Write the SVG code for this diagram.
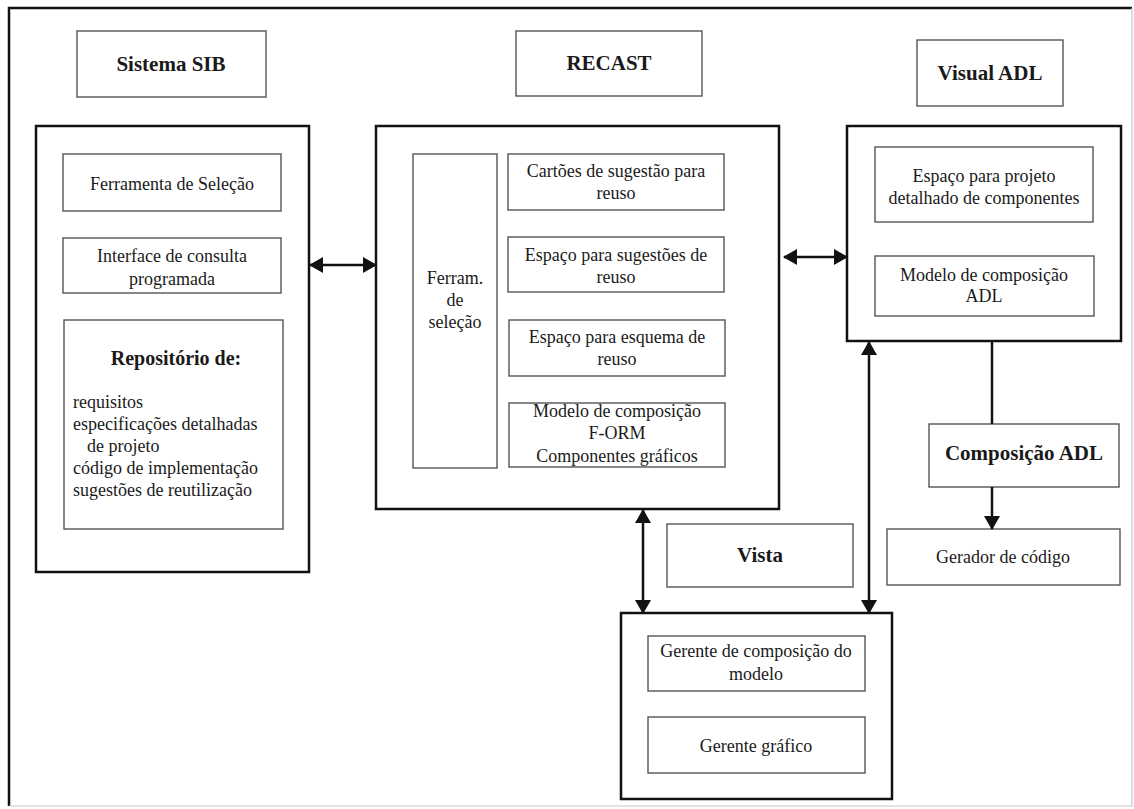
<svg xmlns="http://www.w3.org/2000/svg" width="1134" height="809" viewBox="0 0 1134 809">
  <style>
    text { font-family: "Liberation Serif", "Times New Roman", serif; fill: #1a1a1a; }
    .t { font-size: 18px; text-anchor: middle; }
    .tl { font-size: 18px; text-anchor: start; }
    .h { font-size: 21px; font-weight: bold; text-anchor: middle; }
    .hs { font-size: 20px; font-weight: bold; text-anchor: middle; }
    .big { fill: #fff; stroke: #111; stroke-width: 2.5; }
    .box { fill: #fff; stroke: #555; stroke-width: 1.4; }
    .edge { fill: none; stroke: #111; stroke-width: 2.5; }
  </style>
  <defs>
    <marker id="head" viewBox="0 0 14 16" markerUnits="userSpaceOnUse" markerWidth="14" markerHeight="16" refX="13" refY="8" orient="auto-start-reverse">
      <path d="M0,0 L14,8 L0,16 z" fill="#111"/>
    </marker>
  </defs>

  <rect width="1134" height="809" fill="#fff"/>

  <!-- outer frame -->
  <g id="frame">
    <path d="M9,806 V8 H1132" fill="none" stroke="#111" stroke-width="2.5"/>
    <path d="M1132,8 V806 H9" fill="none" stroke="#c8c8c8" stroke-width="1.2"/>
  </g>

  <!-- system titles -->
  <g id="label-sib">
    <rect class="box" x="77" y="31" width="189" height="66"/>
    <text class="h" x="171" y="71">Sistema SIB</text>
  </g>
  <g id="label-recast">
    <rect class="box" x="516" y="31" width="186" height="65"/>
    <text class="h" x="609" y="70">RECAST</text>
  </g>
  <g id="label-visual-adl">
    <rect class="box" x="917" y="40" width="146" height="66"/>
    <text class="h" x="990" y="80">Visual ADL</text>
  </g>

  <!-- SIB system -->
  <g id="sib">
    <rect class="big" x="36" y="126" width="273" height="446"/>
    <g id="sib-selecao">
      <rect class="box" x="63" y="154" width="218" height="57"/>
      <text class="t" x="172" y="190">Ferramenta de Seleção</text>
    </g>
    <g id="sib-consulta">
      <rect class="box" x="63" y="238" width="218" height="55"/>
      <text class="t" x="172" y="262">Interface de consulta</text>
      <text class="t" x="172" y="285">programada</text>
    </g>
    <g id="sib-repositorio">
      <rect class="box" x="64" y="320" width="219" height="209"/>
      <text class="hs" x="176" y="365">Repositório de:</text>
      <text class="tl" x="73" y="408">requisitos</text>
      <text class="tl" x="73" y="430">especificações detalhadas</text>
      <text class="tl" x="87" y="452">de projeto</text>
      <text class="tl" x="73" y="474">código de implementação</text>
      <text class="tl" x="73" y="496">sugestões de reutilização</text>
    </g>
  </g>

  <!-- RECAST -->
  <g id="recast">
    <rect class="big" x="376" y="126" width="403" height="383"/>
    <g id="recast-ferram">
      <rect class="box" x="413" y="154" width="84" height="314"/>
      <text class="t" x="455" y="284">Ferram.</text>
      <text class="t" x="455" y="306">de</text>
      <text class="t" x="455" y="328">seleção</text>
    </g>
    <g id="recast-cartoes">
      <rect class="box" x="508" y="154" width="216" height="56"/>
      <text class="t" x="616" y="177">Cartões de sugestão para</text>
      <text class="t" x="616" y="199">reuso</text>
    </g>
    <g id="recast-sugestoes">
      <rect class="box" x="508" y="237" width="216" height="55"/>
      <text class="t" x="616" y="261">Espaço para sugestões de</text>
      <text class="t" x="616" y="283">reuso</text>
    </g>
    <g id="recast-esquema">
      <rect class="box" x="509" y="320" width="216" height="56"/>
      <text class="t" x="617" y="343">Espaço para esquema de</text>
      <text class="t" x="617" y="365">reuso</text>
    </g>
    <g id="recast-modelo">
      <rect class="box" x="509" y="403" width="216" height="64"/>
      <text class="t" x="617" y="417">Modelo de composição</text>
      <text class="t" x="617" y="439">F-ORM</text>
      <text class="t" x="617" y="462">Componentes gráficos</text>
    </g>
  </g>

  <!-- Visual ADL -->
  <g id="visual-adl">
    <rect class="big" x="847" y="126" width="274" height="215"/>
    <g id="vadl-projeto">
      <rect class="box" x="875" y="147" width="218" height="75"/>
      <text class="t" x="984" y="182">Espaço para projeto</text>
      <text class="t" x="984" y="204">detalhado de componentes</text>
    </g>
    <g id="vadl-modelo">
      <rect class="box" x="875" y="256" width="219" height="60"/>
      <text class="t" x="984" y="281">Modelo de composição</text>
      <text class="t" x="984" y="302">ADL</text>
    </g>
  </g>

  <g id="composicao-adl">
    <rect class="box" x="929" y="424" width="190" height="63"/>
    <text class="h" x="1024" y="460">Composição ADL</text>
  </g>
  <g id="gerador">
    <rect class="box" x="887" y="529" width="233" height="56"/>
    <text class="t" x="1003" y="563">Gerador de código</text>
  </g>

  <g id="label-vista">
    <rect class="box" x="667" y="524" width="186" height="63"/>
    <text class="h" x="760" y="562">Vista</text>
  </g>

  <!-- Vista -->
  <g id="vista">
    <rect class="big" x="621" y="613" width="271" height="186"/>
    <g id="vista-composicao">
      <rect class="box" x="648" y="636" width="217" height="55"/>
      <text class="t" x="756" y="657">Gerente de composição do</text>
      <text class="t" x="756" y="680">modelo</text>
    </g>
    <g id="vista-grafico">
      <rect class="box" x="648" y="717" width="217" height="56"/>
      <text class="t" x="756" y="752">Gerente gráfico</text>
    </g>
  </g>

  <!-- connectors -->
  <g id="connectors">
    <line class="edge" x1="310" y1="265" x2="376" y2="265" marker-start="url(#head)" marker-end="url(#head)"/>
    <line class="edge" x1="784" y1="257" x2="847" y2="257" marker-start="url(#head)" marker-end="url(#head)"/>
    <line class="edge" x1="643" y1="510" x2="643" y2="613" marker-start="url(#head)" marker-end="url(#head)"/>
    <line class="edge" x1="869" y1="342" x2="869" y2="613" marker-start="url(#head)" marker-end="url(#head)"/>
    <line class="edge" x1="992" y1="341" x2="992" y2="424" stroke-width="2"/>
    <line class="edge" x1="992" y1="487" x2="992" y2="529" marker-end="url(#head)"/>
  </g>
</svg>
